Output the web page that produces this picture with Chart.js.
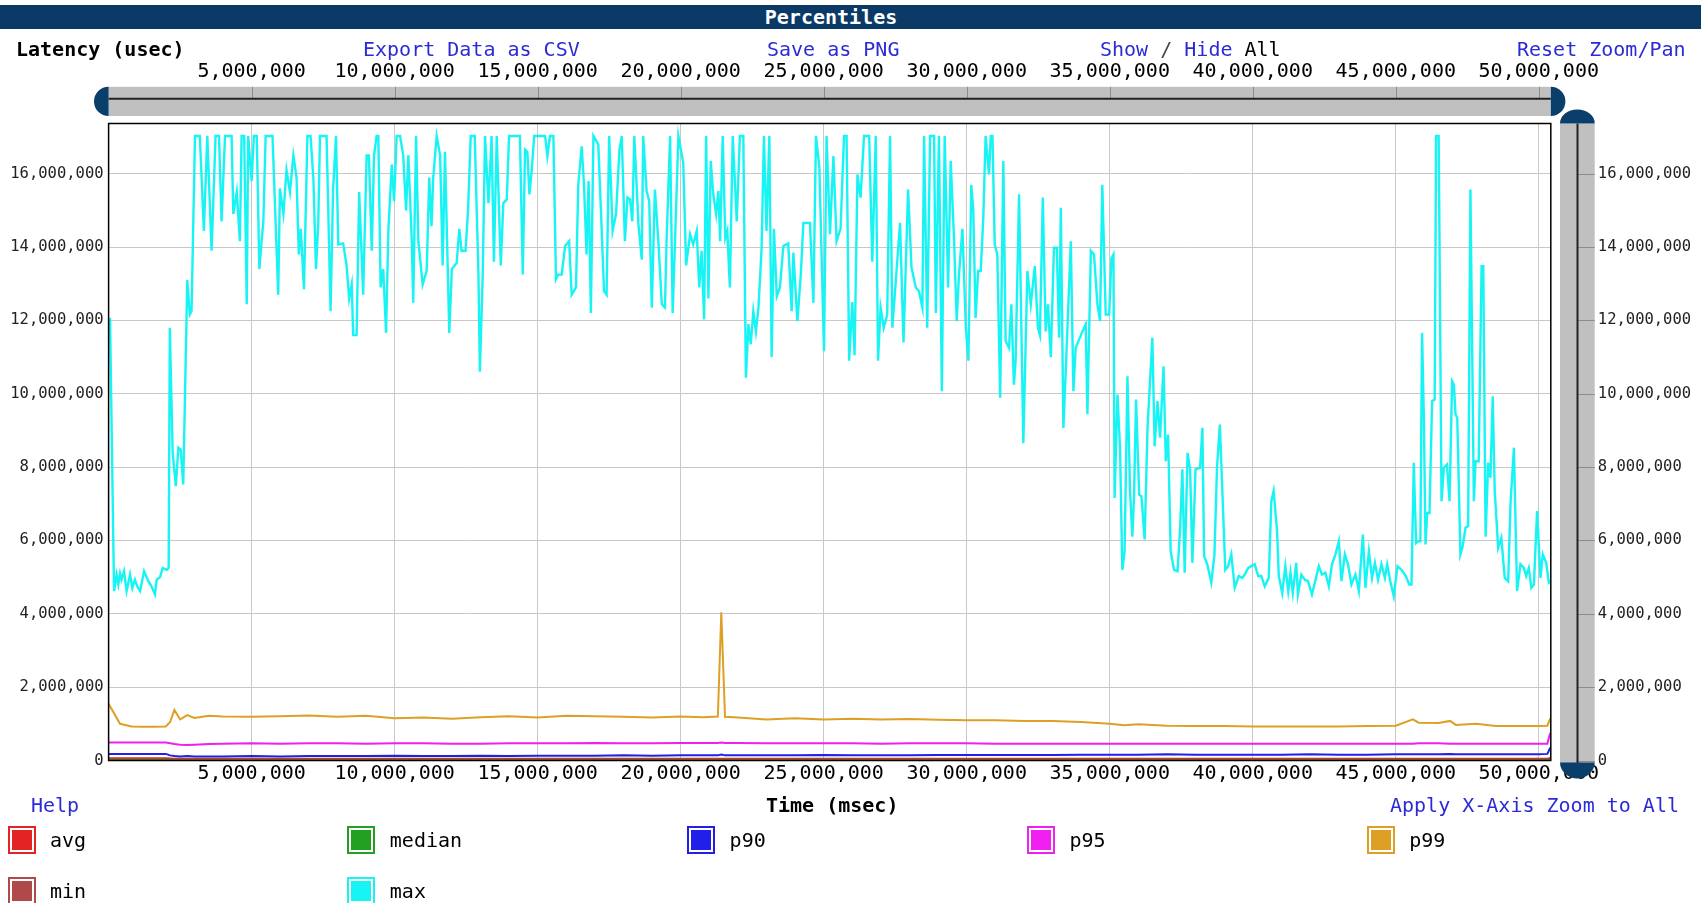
<!DOCTYPE html>
<html>
<head>
<meta charset="utf-8">
<title>Percentiles</title>
<script src="https://cdn.jsdelivr.net/npm/chart.js@4.4.1/dist/chart.umd.min.js"></script>
<style>
  html, body { margin: 0; padding: 0; background: #fff; overflow: hidden; }
  #page { position: relative; width: 1701px; height: 903px; overflow: hidden;
          font-family: 'DejaVu Sans Mono', monospace; font-size: 20px; line-height: 24px; color: #000; }
  #page canvas { position: absolute; left: 0; top: 0; }
  .txt { position: absolute; white-space: pre; }
  .link { color: #2b2bd6; }
  .bold { font-weight: bold; }
  #titlebar { position: absolute; left: 0; top: 5px; width: 1701px; height: 24px; background: #0b3a66; }
  #titlebar span { position: absolute; left: 0; width: 1662px; text-align: center; color: #fff; font-weight: bold; }
  .box { position: absolute; width: 24px; height: 24px; border: 2px solid; box-shadow: inset 0 0 0 2px #fff; }
</style>
</head>
<body>
<div id="page">
  <canvas id="chartCanvas" width="1701" height="903"></canvas>
  <div id="titlebar"><span>Percentiles</span></div>
  <div class="txt bold" style="left:16px; top:37px;">Latency (usec)</div>
  <div class="txt link" style="left:363px; top:37px;">Export Data as CSV</div>
  <div class="txt link" style="left:767px; top:37px;">Save as PNG</div>
  <div class="txt" style="left:1100px; top:37px;"><span class="link">Show</span><span style="color:#444"> / </span><span class="link">Hide</span> All</div>
  <div class="txt link" style="left:1517px; top:37px;">Reset Zoom/Pan</div>
  <div class="txt link" style="left:31px; top:793px;">Help</div>
  <div class="txt bold" style="left:766px; top:793px;">Time (msec)</div>
  <div class="txt link" style="left:1390px; top:793px;">Apply X-Axis Zoom to All</div>
  <div id="legend"></div>
</div>
<script>
// Time in millions of msec, latency in millions of usec
const maxTime = [
  0.05, 0.19, 0.28, 0.34, 0.40, 0.45, 0.54, 0.63, 0.75, 0.83, 0.92, 1.00, 1.10, 1.24, 1.39, 1.50, 1.62, 1.68, 1.80, 1.89,
  2.03, 2.10, 2.14, 2.24, 2.35, 2.44, 2.52, 2.61, 2.75, 2.84, 2.90, 3.02, 3.19, 3.33, 3.45, 3.60, 3.74, 3.86, 3.95, 4.07,
  4.30, 4.36, 4.48, 4.59, 4.65, 4.74, 4.83, 4.88, 5.00, 5.08, 5.18, 5.27, 5.35, 5.41, 5.49, 5.73, 5.93, 5.99, 6.11, 6.22,
  6.34, 6.46, 6.57, 6.65, 6.72, 6.83, 6.95, 7.06, 7.16, 7.25, 7.33, 7.39, 7.62, 7.76, 7.85, 7.95, 8.03, 8.20, 8.32, 8.41,
  8.50, 8.55, 8.67, 8.76, 8.90, 9.02, 9.10, 9.20, 9.28, 9.37, 9.43, 9.51, 9.60, 9.70, 9.78, 9.90, 9.98, 10.07, 10.19, 10.30,
  10.40, 10.48, 10.60, 10.65, 10.75, 10.83, 10.98, 11.12, 11.21, 11.29, 11.35, 11.47, 11.59, 11.68, 11.76, 11.91, 12.00, 12.17, 12.26, 12.34,
  12.48, 12.57, 12.66, 12.80, 12.93, 12.98, 13.08, 13.16, 13.28, 13.39, 13.47, 13.57, 13.71, 13.80, 13.92, 14.00, 14.38, 14.48, 14.56, 14.64,
  14.71, 14.79, 14.88, 15.26, 15.34, 15.43, 15.55, 15.64, 15.72, 15.84, 15.96, 16.10, 16.19, 16.34, 16.42, 16.54, 16.62, 16.71, 16.78, 16.86,
  16.95, 17.12, 17.24, 17.32, 17.41, 17.50, 17.62, 17.74, 17.86, 17.94, 18.05, 18.14, 18.23, 18.31, 18.38, 18.52, 18.64, 18.69, 18.81, 18.90,
  18.99, 19.10, 19.22, 19.34, 19.45, 19.51, 19.63, 19.72, 19.80, 19.92, 20.09, 20.19, 20.33, 20.44, 20.56, 20.65, 20.73, 20.82, 20.89, 20.97,
  21.05, 21.14, 21.24, 21.32, 21.38, 21.47, 21.56, 21.63, 21.72, 21.82, 21.96, 22.07, 22.19, 22.28, 22.37, 22.45, 22.54, 22.63, 22.72, 22.83,
  22.91, 23.00, 23.10, 23.18, 23.26, 23.36, 23.47, 23.59, 23.76, 23.88, 23.94, 24.08, 24.20, 24.29, 24.52, 24.64, 24.73, 24.85, 25.01, 25.10,
  25.22, 25.34, 25.45, 25.59, 25.71, 25.80, 25.89, 26.00, 26.08, 26.18, 26.29, 26.41, 26.59, 26.70, 26.82, 26.90, 26.99, 27.10, 27.22, 27.32,
  27.40, 27.52, 27.67, 27.79, 27.95, 28.07, 28.22, 28.33, 28.45, 28.51, 28.62, 28.72, 28.86, 28.92, 29.03, 29.13, 29.23, 29.35, 29.44, 29.56,
  29.65, 29.73, 29.85, 29.97, 30.06, 30.16, 30.23, 30.31, 30.40, 30.49, 30.58, 30.66, 30.78, 30.84, 30.90, 30.98, 31.07, 31.17, 31.28, 31.36,
  31.48, 31.56, 31.65, 31.71, 31.83, 31.98, 32.12, 32.24, 32.38, 32.49, 32.56, 32.66, 32.76, 32.84, 32.94, 33.05, 33.15, 33.23, 33.29, 33.38,
  33.50, 33.64, 33.73, 33.81, 33.99, 34.16, 34.22, 34.34, 34.45, 34.57, 34.66, 34.74, 34.86, 34.98, 35.06, 35.13, 35.17, 35.27, 35.36, 35.44,
  35.52, 35.62, 35.71, 35.79, 35.85, 35.92, 36.03, 36.11, 36.22, 36.32, 36.49, 36.57, 36.67, 36.76, 36.88, 36.96, 37.04, 37.13, 37.25, 37.37,
  37.46, 37.54, 37.62, 37.72, 37.81, 37.89, 38.00, 38.16, 38.24, 38.30, 38.41, 38.55, 38.66, 38.75, 38.85, 39.04, 39.14, 39.25, 39.37, 39.51,
  39.63, 39.72, 39.84, 39.95, 40.07, 40.19, 40.30, 40.42, 40.56, 40.65, 40.73, 40.85, 40.91, 41.03, 41.14, 41.24, 41.32, 41.40, 41.52, 41.58,
  41.70, 41.82, 41.93, 42.07, 42.21, 42.31, 42.42, 42.54, 42.66, 42.77, 42.89, 43.01, 43.10, 43.22, 43.33, 43.45, 43.59, 43.71, 43.85, 43.94,
  44.06, 44.17, 44.27, 44.38, 44.50, 44.62, 44.70, 44.81, 44.93, 45.06, 45.20, 45.35, 45.47, 45.55, 45.63, 45.71, 45.78, 45.86, 45.92, 45.98,
  46.04, 46.10, 46.18, 46.27, 46.36, 46.41, 46.50, 46.60, 46.68, 46.79, 46.88, 46.97, 47.03, 47.09, 47.15, 47.26, 47.34, 47.44, 47.53, 47.61,
  47.73, 47.79, 47.90, 48.00, 48.06, 48.14, 48.23, 48.31, 48.39, 48.46, 48.58, 48.69, 48.81, 48.93, 49.01, 49.13, 49.24, 49.36, 49.48, 49.56,
  49.65, 49.74, 49.83, 49.94, 50.06, 50.14, 50.26, 50.35, 50.42
];
const maxLatency = [
  12.07, 4.62, 5.07, 4.80, 5.10, 4.93, 5.16, 4.62, 5.07, 4.70, 4.93, 4.75, 4.62, 5.16, 4.89, 4.75, 4.53, 4.93, 5.00, 5.25,
  5.20, 5.25, 11.80, 8.40, 7.48, 8.53, 8.48, 7.53, 13.10, 12.16, 12.25, 17.03, 17.03, 14.44, 17.03, 13.90, 17.03, 17.03, 14.70, 17.03,
  17.03, 14.90, 15.50, 14.16, 17.03, 17.03, 12.44, 17.03, 15.80, 17.03, 17.03, 13.40, 14.16, 14.70, 17.03, 17.03, 12.70, 15.60, 14.90, 16.10,
  15.50, 16.50, 15.90, 13.80, 14.50, 12.85, 17.03, 17.03, 15.85, 13.40, 14.66, 17.03, 17.03, 12.25, 15.60, 17.03, 14.07, 14.10, 13.50, 12.60,
  12.98, 11.60, 11.60, 15.50, 12.70, 16.50, 16.50, 13.90, 16.50, 17.03, 17.03, 12.90, 13.40, 11.66, 14.44, 16.25, 15.25, 17.03, 17.03, 16.50,
  15.00, 16.50, 14.16, 12.48, 17.03, 14.16, 12.98, 13.35, 15.90, 14.57, 15.90, 17.03, 16.50, 13.50, 16.60, 11.66, 13.40, 13.57, 14.50, 13.90,
  13.90, 15.07, 17.03, 17.03, 13.25, 10.60, 13.25, 17.03, 15.20, 17.03, 13.60, 17.03, 13.50, 15.20, 15.30, 17.03, 17.03, 13.25, 16.66, 16.60,
  15.44, 16.07, 17.03, 17.03, 16.48, 17.03, 17.03, 13.12, 13.25, 13.25, 14.03, 14.16, 12.70, 12.90, 15.70, 16.75, 15.70, 13.80, 15.80, 12.20,
  17.03, 16.80, 14.44, 12.80, 12.70, 17.03, 14.44, 14.90, 16.66, 17.03, 14.16, 15.35, 15.30, 14.70, 17.03, 14.66, 13.66, 17.03, 15.53, 15.25,
  12.35, 15.57, 14.16, 12.44, 12.35, 14.25, 17.03, 12.20, 14.10, 17.03, 16.30, 13.50, 14.35, 14.07, 14.44, 12.90, 13.90, 12.03, 17.03, 12.60,
  16.35, 15.44, 14.90, 15.53, 14.16, 17.03, 14.25, 14.44, 12.90, 17.03, 14.70, 17.03, 17.03, 10.44, 11.90, 11.35, 12.25, 11.70, 12.35, 13.98,
  17.03, 14.44, 17.03, 11.00, 14.50, 12.66, 12.90, 14.03, 14.10, 12.25, 13.85, 11.98, 13.25, 14.66, 14.66, 12.48, 17.03, 16.16, 11.16, 17.03,
  14.35, 16.48, 14.16, 14.50, 17.03, 17.03, 10.90, 12.50, 11.05, 15.98, 15.35, 17.03, 17.03, 13.60, 17.03, 10.90, 12.35, 11.80, 12.16, 17.03,
  11.80, 13.07, 14.66, 11.40, 15.57, 13.44, 12.90, 12.80, 12.35, 17.03, 11.80, 17.03, 17.03, 12.20, 17.03, 10.07, 17.03, 12.90, 16.35, 14.16,
  11.98, 13.25, 14.50, 11.80, 10.90, 15.70, 15.00, 12.07, 13.35, 13.35, 14.80, 17.03, 15.98, 17.03, 17.03, 14.07, 13.80, 9.89, 16.35, 11.44,
  11.25, 12.44, 10.25, 10.90, 15.44, 8.65, 13.35, 12.44, 13.48, 11.80, 11.60, 15.35, 11.70, 12.44, 11.00, 13.98, 13.98, 11.53, 15.07, 9.07,
  11.35, 14.16, 10.07, 11.25, 11.60, 11.90, 9.44, 13.90, 13.80, 12.44, 11.98, 15.70, 12.16, 12.16, 13.70, 13.80, 7.16, 9.98, 8.53, 5.20,
  5.70, 10.48, 7.35, 6.10, 7.20, 9.84, 7.25, 7.20, 6.03, 9.03, 11.53, 8.57, 9.80, 8.80, 10.75, 8.16, 8.89, 5.70, 5.20, 5.16,
  6.30, 7.94, 5.12, 8.39, 7.94, 5.39, 7.94, 7.98, 9.07, 5.57, 5.35, 4.85, 5.60, 7.98, 9.16, 5.20, 5.30, 5.62, 4.71, 5.03,
  4.98, 5.07, 5.25, 5.30, 5.35, 5.03, 5.03, 4.75, 4.98, 7.07, 7.35, 6.25, 5.03, 4.57, 5.30, 4.62, 5.12, 4.57, 5.39, 4.53,
  5.07, 4.93, 4.89, 4.53, 4.98, 5.30, 5.07, 5.12, 4.75, 5.35, 5.62, 5.98, 4.89, 5.62, 5.35, 4.80, 5.07, 4.62, 6.16, 4.71,
  5.70, 4.98, 5.39, 4.93, 5.35, 4.98, 5.35, 4.89, 4.48, 5.30, 5.20, 5.03, 4.80, 4.80, 8.12, 5.93, 5.98, 5.98, 11.66, 9.44,
  5.89, 6.75, 6.75, 9.80, 9.84, 17.03, 17.03, 7.07, 7.98, 8.07, 7.07, 10.34, 10.25, 9.44, 9.34, 5.62, 5.84, 6.35, 6.39, 15.57,
  7.07, 8.16, 8.16, 13.48, 13.48, 6.10, 8.12, 7.71, 9.93, 7.35, 5.80, 6.07, 4.98, 4.89, 6.98, 8.53, 4.62, 5.35, 5.25, 5.03,
  5.25, 4.71, 4.80, 6.80, 4.98, 5.62, 5.39, 4.85, 4.90
];

const lowTime = [
  0, 0.4, 0.8, 1.2, 1.6, 2.0, 2.15, 2.3, 2.5, 2.75, 3.0, 3.5, 4,
  5, 6, 7, 8, 9, 10, 11, 12, 13, 14, 15, 16, 17, 18, 19, 20,
  20.8, 21.3, 21.42, 21.55,
  22, 23, 24, 25, 26, 27, 28, 29, 30, 31, 32, 33, 34, 35,
  35.5, 36, 37, 38, 39, 40, 41, 42, 43, 44, 45,
  45.6, 45.8, 46.5, 46.9, 47.1, 47.8, 48.5, 49, 50, 50.3, 50.4
];
const p99Latency = [
  1.55, 1.00, 0.93, 0.92, 0.92, 0.93, 1.05, 1.38, 1.12, 1.24, 1.16, 1.22, 1.20,
  1.19, 1.21, 1.23, 1.19, 1.22, 1.15, 1.17, 1.14, 1.18, 1.21, 1.17, 1.22, 1.21, 1.19, 1.17, 1.20,
  1.18, 1.20, 4.04, 1.19,
  1.17, 1.12, 1.15, 1.12, 1.14, 1.12, 1.13, 1.11, 1.10, 1.10, 1.08, 1.08, 1.05, 1.00,
  0.96, 0.99, 0.95, 0.94, 0.94, 0.93, 0.93, 0.93, 0.93, 0.94, 0.95,
  1.12, 1.03, 1.02, 1.08, 0.97, 1.00, 0.94, 0.94, 0.94, 0.95, 1.15
];
const p95Latency = [
  0.49, 0.49, 0.49, 0.49, 0.49, 0.49, 0.47, 0.45, 0.43, 0.42, 0.43, 0.45, 0.46,
  0.47, 0.46, 0.47, 0.47, 0.46, 0.47, 0.47, 0.46, 0.46, 0.47, 0.47, 0.47, 0.48, 0.47, 0.47, 0.48,
  0.48, 0.48, 0.49, 0.48,
  0.48, 0.47, 0.47, 0.47, 0.47, 0.46, 0.47, 0.47, 0.47, 0.46, 0.46, 0.46, 0.46, 0.46,
  0.46, 0.46, 0.46, 0.46, 0.46, 0.46, 0.46, 0.46, 0.46, 0.46, 0.46,
  0.46, 0.47, 0.47, 0.46, 0.46, 0.46, 0.46, 0.46, 0.46, 0.46, 0.75
];
const p90Latency = [
  0.18, 0.18, 0.18, 0.18, 0.18, 0.18, 0.14, 0.12, 0.11, 0.12, 0.11, 0.11, 0.11,
  0.12, 0.11, 0.12, 0.12, 0.12, 0.13, 0.12, 0.12, 0.13, 0.12, 0.13, 0.13, 0.13, 0.14, 0.13, 0.14,
  0.14, 0.14, 0.16, 0.14,
  0.14, 0.14, 0.14, 0.15, 0.14, 0.14, 0.14, 0.15, 0.15, 0.15, 0.15, 0.15, 0.16, 0.16,
  0.16, 0.16, 0.17, 0.16, 0.16, 0.16, 0.16, 0.17, 0.16, 0.16, 0.17,
  0.17, 0.17, 0.17, 0.18, 0.17, 0.17, 0.17, 0.17, 0.17, 0.18, 0.35
];

const flatTime = [0, 2.0, 2.3, 10, 20, 30, 40, 50, 50.3, 50.4];
const avgLatency = [0.06, 0.06, 0.045, 0.045, 0.05, 0.05, 0.05, 0.05, 0.05, 0.07];
const medianLatency = [0.03, 0.03, 0.02, 0.02, 0.02, 0.02, 0.02, 0.02, 0.02, 0.04];
const minLatency = [0.005, 0.005, 0.005, 0.005, 0.005, 0.005, 0.005, 0.005, 0.005, 0.005];

const seriesNames = ['avg', 'median', 'p90', 'p95', 'p99', 'min', 'max'];
const seriesColors = ['#e42424', '#22a022', '#2020e8', '#f020f0', '#dea024', '#b04a4a', '#18f4f4'];

// tick values (millions)
const xTicks = [5, 10, 15, 20, 25, 30, 35, 40, 45, 50];
const yTicks = [0, 2, 4, 6, 8, 10, 12, 14, 16];
const X_MIN = 0, X_MAX = 50420000, Y_MAX = 17370000;

// plot box in page pixels
const PLOT_LEFT = 108.6, PLOT_RIGHT = 1550.8, PLOT_TOP = 123.5, PLOT_BOTTOM = 760.5;
const PAGE_W = 1701, PAGE_H = 903;

function toPoints(times, values) {
    return times.map((t, i) => ({ x: t * 1e6, y: values[i] * 1e6 }));
}

const seriesData = [
    toPoints(flatTime, avgLatency),
    toPoints(flatTime, medianLatency),
    toPoints(lowTime, p90Latency),
    toPoints(lowTime, p95Latency),
    toPoints(lowTime, p99Latency),
    toPoints(flatTime, minLatency),
    toPoints(maxTime, maxLatency)
];

// HTML legend
const legend = document.getElementById('legend');
seriesNames.forEach((name, i) => {
    const col = i % 5, row = Math.floor(i / 5);
    const left = 7.6 + col * 339.8;
    const top = 826 + row * 51;
    const box = document.createElement('div');
    box.className = 'box';
    box.style.left = left + 'px';
    box.style.top = top + 'px';
    box.style.borderColor = seriesColors[i];
    box.style.background = seriesColors[i];
    legend.appendChild(box);
    const label = document.createElement('div');
    label.className = 'txt';
    label.style.left = (left + 42.4) + 'px';
    label.style.top = (top + 2) + 'px';
    label.textContent = name;
    legend.appendChild(label);
});

// range selector bars around the plot
const sliderPlugin = {
    id: 'sliders',
    afterDraw(chart) {
        const { ctx, chartArea: ca, scales } = chart;
        const navy = '#0b3f6b';
        ctx.save();

        // top (x) slider
        const ty0 = 86.8, ty1 = 116, tline = 98.7, tmid = (ty0 + ty1) / 2, tr = (ty1 - ty0) / 2;
        ctx.fillStyle = '#c0c0c0';
        ctx.fillRect(ca.left, ty0, ca.right - ca.left, ty1 - ty0);
        ctx.strokeStyle = '#8c8c8c';
        ctx.lineWidth = 1;
        scales.x.ticks.forEach(t => {
            const px = Math.round(scales.x.getPixelForValue(t.value)) + 0.5;
            ctx.beginPath(); ctx.moveTo(px, ty0); ctx.lineTo(px, tline); ctx.stroke();
        });
        ctx.strokeStyle = '#222';
        ctx.lineWidth = 2;
        ctx.beginPath(); ctx.moveTo(ca.left, tline); ctx.lineTo(ca.right, tline); ctx.stroke();
        ctx.fillStyle = navy;
        ctx.beginPath(); ctx.ellipse(ca.left, tmid, tr, tr, 0, Math.PI / 2, Math.PI * 1.5); ctx.closePath(); ctx.fill();
        ctx.beginPath(); ctx.ellipse(ca.right, tmid, tr, tr, 0, -Math.PI / 2, Math.PI / 2); ctx.closePath(); ctx.fill();

        // right (y) slider
        const rx0 = 1560, rx1 = 1594.7, rline = 1577.5, ry1 = ca.bottom + 3;
        ctx.fillStyle = '#c0c0c0';
        ctx.fillRect(rx0, ca.top, rx1 - rx0, ry1 - ca.top);
        ctx.strokeStyle = '#8c8c8c';
        ctx.lineWidth = 1;
        scales.y.ticks.forEach(t => {
            const py = Math.round(scales.y.getPixelForValue(t.value)) + 0.5;
            ctx.beginPath(); ctx.moveTo(rline, py); ctx.lineTo(rx1, py); ctx.stroke();
        });
        ctx.strokeStyle = '#222';
        ctx.lineWidth = 2;
        ctx.beginPath(); ctx.moveTo(rline, ca.top); ctx.lineTo(rline, ry1); ctx.stroke();
        ctx.fillStyle = navy;
        const rmid = (rx0 + rx1) / 2, rr = (rx1 - rx0) / 2;
        ctx.beginPath(); ctx.ellipse(rmid, ca.top, rr, 14, 0, Math.PI, Math.PI * 2); ctx.closePath(); ctx.fill();
        ctx.beginPath(); ctx.ellipse(rmid, ry1 - 1, rr, 16, 0, 0, Math.PI); ctx.closePath(); ctx.fill();

        // plot frame
        ctx.strokeStyle = '#000';
        ctx.lineWidth = 1.5;
        ctx.strokeRect(ca.left, ca.top, ca.right - ca.left, ca.bottom - ca.top);
        ctx.restore();
    }
};

const fmt = v => v.toLocaleString('en-US');
const monoFont = { family: 'DejaVu Sans Mono', size: 20 };
const yFont = { family: 'DejaVu Sans Mono', size: 15.5 };
const setTicks = list => axis => { axis.ticks = list.map(v => ({ value: v * 1e6 })); };

Chart.defaults.font.family = 'DejaVu Sans Mono';

const chart = new Chart(document.getElementById('chartCanvas').getContext('2d'), {
    type: 'line',
    data: {
        datasets: seriesNames.map((name, i) => ({
            label: name,
            data: seriesData[i],
            borderColor: seriesColors[i],
            borderWidth: name === 'max' ? 2.4 : 2,
            pointRadius: 0,
            tension: 0,
            fill: false,
            order: seriesNames.length - 1 - i,
            xAxisID: 'x',
            yAxisID: 'y'
        }))
    },
    plugins: [sliderPlugin],
    options: {
        responsive: false,
        animation: false,
        devicePixelRatio: 1,
        parsing: false,
        events: [],
        layout: { padding: 0 },
        plugins: { legend: { display: false }, tooltip: { enabled: false } },
        scales: {
            x: {
                type: 'linear', position: 'bottom', min: X_MIN, max: X_MAX,
                grid: { color: '#c8c8c8', drawTicks: false },
                border: { display: false },
                afterBuildTicks: setTicks(xTicks),
                ticks: { autoSkip: false, maxRotation: 0, padding: 1, color: '#000', font: monoFont,
                         callback: v => fmt(v) },
                afterFit: s => { s.height = PAGE_H - PLOT_BOTTOM; }
            },
            xTop: {
                type: 'linear', position: 'top', min: X_MIN, max: X_MAX,
                grid: { display: false, drawTicks: false },
                border: { display: false },
                afterBuildTicks: setTicks(xTicks),
                ticks: { autoSkip: false, maxRotation: 0, padding: 40, color: '#000', font: monoFont,
                         callback: v => fmt(v) },
                afterFit: s => { s.height = PLOT_TOP; }
            },
            y: {
                type: 'linear', position: 'left', min: 0, max: Y_MAX,
                grid: { color: '#c8c8c8', drawTicks: false },
                border: { display: false },
                afterBuildTicks: setTicks(yTicks),
                ticks: { autoSkip: false, padding: 5, color: '#222', font: yFont, callback: v => fmt(v) },
                afterFit: s => { s.width = PLOT_LEFT; }
            },
            y2: {
                type: 'linear', position: 'right', min: 0, max: Y_MAX,
                grid: { display: false, drawTicks: false },
                border: { display: false },
                afterBuildTicks: setTicks(yTicks),
                ticks: { autoSkip: false, padding: 47, color: '#222', font: yFont, callback: v => fmt(v) },
                afterFit: s => { s.width = PAGE_W - PLOT_RIGHT; }
            }
        }
    }
});
</script>
</body>
</html>
